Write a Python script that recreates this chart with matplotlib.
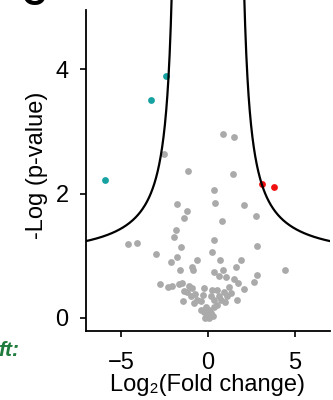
import numpy as np
import matplotlib.pyplot as plt

plt.rcParams['font.family'] = ['Liberation Sans', 'DejaVu Sans']

# significant, down-regulated (teal)
down_x = [-2.41, -3.24, -5.93]
down_y = [3.89, 3.50, 2.22]

# significant, up-regulated (red)
up_x = [3.11, 3.78]
up_y = [2.15, 2.10]

# not significant (grey)
ns_x = [0.86, 1.51, -2.51, -1.12, 1.43, 0.33, -1.75, 0.40, 2.06, -1.20,
        -1.35, 0.82, 2.76, -1.83, -1.92, 0.33, 2.82, -1.53, -2.99, 0.24,
        -1.75, -0.63, -2.11, 0.69, 1.87, -0.93, -1.59, 0.88, 1.59, -0.85,
        0.34, 0.64, 1.05, 1.47, 2.82, 2.64, 1.72, 2.06, -2.76, -2.31,
        -2.08, -1.65, -4.56, -4.06, 4.41, -1.45, 1.66, -1.39,
        -1.47, -1.09, -0.89, -1.18, -0.99, -0.23, 0.25, 0.54, 0.92, 1.30,
        -0.61, -0.38, 0.15, 0.34, 0.73, 0.97, -0.13, 0.06, 0.15, 0.34,
        0.54, -0.23, -0.07, 0.06, -0.80, -0.42, 1.18, -0.76, 0.61, -0.30,
        0.27, -0.19, 1.07]
ns_y = [2.96, 2.91, 2.63, 2.37, 2.32, 2.06, 1.83, 1.85, 1.81, 1.72,
        1.61, 1.56, 1.64, 1.42, 1.30, 1.25, 1.16, 1.13, 1.02, 1.05,
        0.98, 0.93, 0.89, 0.93, 0.93, 0.81, 0.77, 0.77, 0.81, 0.76,
        0.74, 0.67, 0.66, 0.62, 0.68, 0.58, 0.55, 0.46, 0.54, 0.50,
        0.51, 0.54, 1.19, 1.20, 0.76, 0.26, 0.29, 0.43,
        0.56, 0.51, 0.47, 0.42, 0.34, 0.47, 0.45, 0.45, 0.42, 0.39,
        0.28, 0.27, 0.34, 0.28, 0.28, 0.25, 0.17, 0.12, 0.07, 0.17,
        0.20, 0.09, 0.04, -0.01, 0.23, 0.12, 0.49, 0.38, 0.35, 0.36,
        0.02, -0.01, 0.35]

# threshold curve: y = c0 + a / (|x| - x0)
c0, a, x0 = 0.9, 1.775, 1.667

fig = plt.figure(figsize=(3.33, 4.0), dpi=100)
ax = fig.add_axes([0.258, 0.173, 0.733, 0.827])

ax.scatter(ns_x, ns_y, s=24, color='#AAAAAA', linewidths=0, zorder=2)
ax.scatter(down_x, down_y, s=24, color='#17A2A2', linewidths=0, zorder=3)
ax.scatter(up_x, up_y, s=24, color='#F01010', linewidths=0, zorder=3)

xs = np.linspace(x0 + 0.35, 7.2, 400)
ys = c0 + a / (xs - x0)
ax.plot(xs, ys, color='black', lw=1.6, zorder=4)
ax.plot(-xs, ys, color='black', lw=1.6, zorder=4)

ax.set_xlim(-7, 7)
ax.set_ylim(-0.213, 5.12)
ax.set_xticks([-5, 0, 5])
ax.set_yticks([0, 2, 4])
ax.spines['top'].set_visible(False)
ax.spines['right'].set_visible(False)
ax.spines['left'].set_bounds(-0.213, 4.96)
for s in ['left', 'bottom']:
    ax.spines[s].set_linewidth(1.3)
ax.tick_params(length=4.5, width=1.2, labelsize=17)
ax.tick_params(axis='x', pad=11)
ax.tick_params(axis='y', pad=8)

ax.set_xlabel('Log\u2082(Fold change)', fontsize=17, labelpad=0)
ax.set_ylabel('-Log (p-value)', fontsize=17, labelpad=5)

fig.text(0.065, 0.97, 'C', fontsize=24, fontweight='bold', va='bottom')
fig.text(-0.005, 0.125, 'ft:', fontsize=15, fontweight='bold',
         fontstyle='italic', color='#1E7B3C', va='center')

fig.savefig('out.png', dpi=100)
